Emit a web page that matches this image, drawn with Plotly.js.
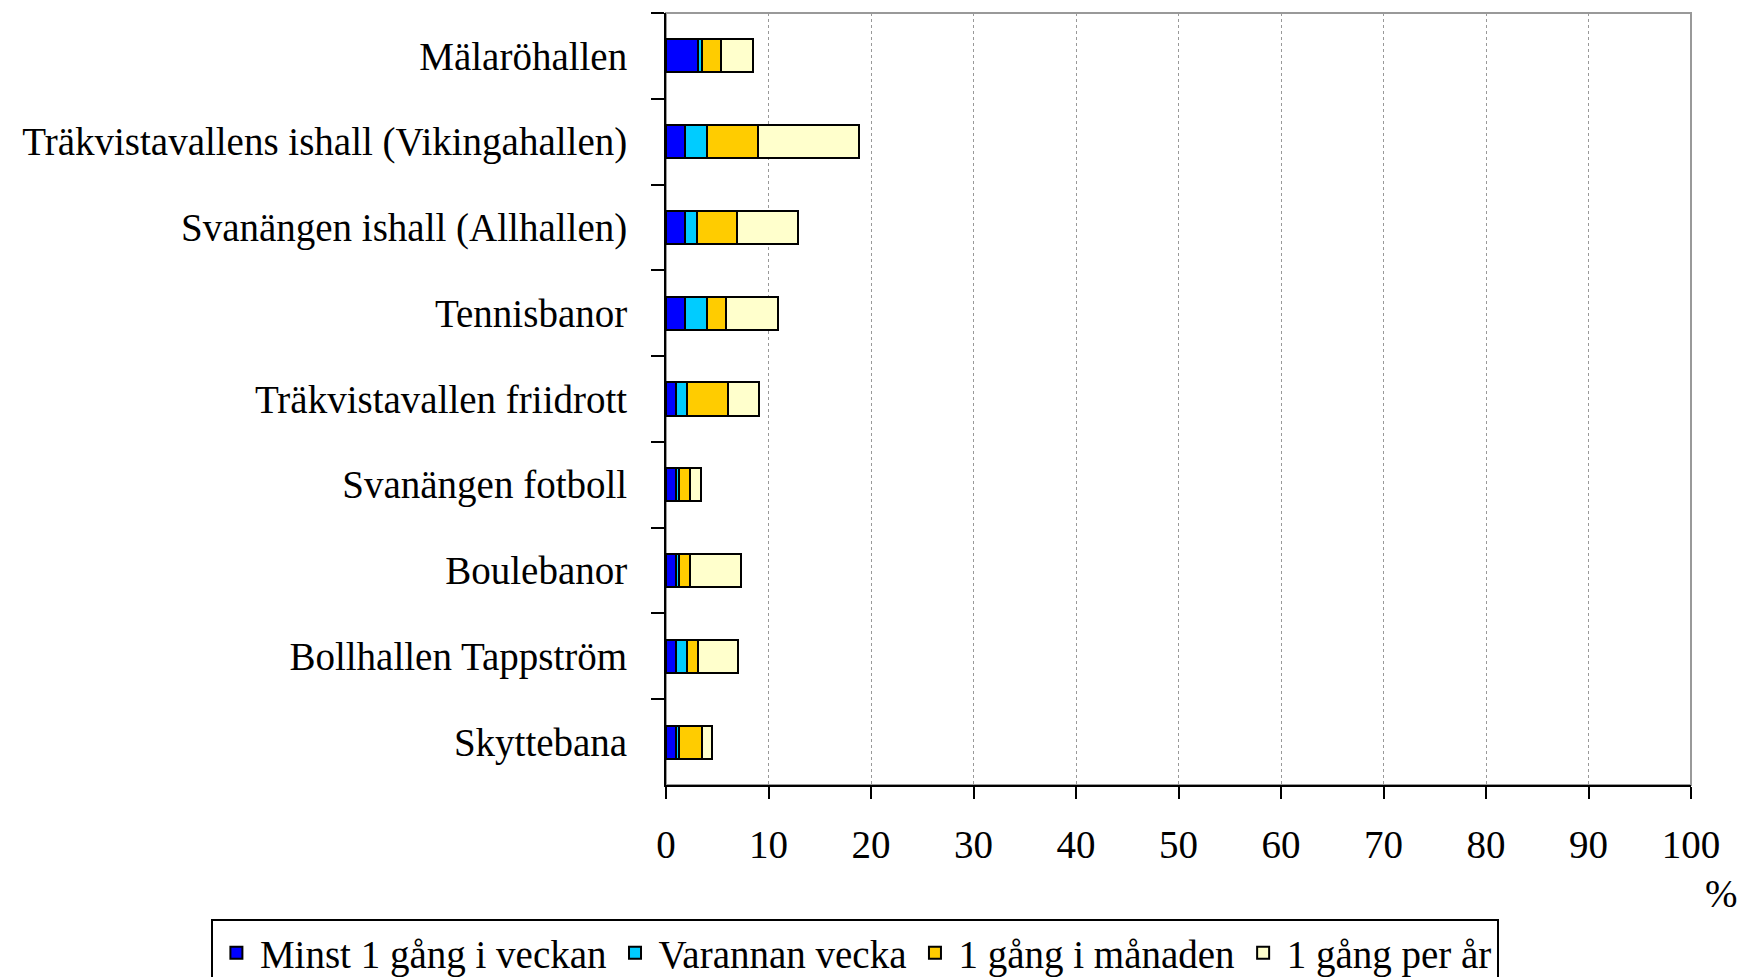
<!DOCTYPE html>
<html>
<head>
<meta charset="utf-8">
<script src="https://cdn.plot.ly/plotly-3.0.1.min.js"></script>
<style>
  body { margin: 0; background: #fff; }
  #plot { width: 1741px; height: 977px; }
</style>
</head>
<body>
<div id="plot"></div>
<script>
// facilities, top to bottom
let facilities = [
    "Mälaröhallen",
    "Träkvistavallens ishall (Vikingahallen)",
    "Svanängen ishall (Allhallen)",
    "Tennisbanor",
    "Träkvistavallen friidrott",
    "Svanängen fotboll",
    "Boulebanor",
    "Bollhallen Tappström",
    "Skyttebana"
];

// share of respondents (%) per visit frequency
let weekly   = [3.1, 1.9, 1.9, 1.9, 1.0, 1.0, 1.0, 1.0, 1.0];
let biweekly = [0.4, 2.1, 1.1, 2.1, 1.0, 0.3, 0.3, 1.0, 0.3];
let monthly  = [1.9, 5.0, 3.9, 1.9, 4.0, 1.0, 1.0, 1.1, 2.2];
let yearly   = [3.1, 9.8, 6.0, 5.0, 3.1, 1.1, 5.0, 3.9, 1.0];

let seriesNames = ["Minst 1 gång i veckan", "Varannan vecka", "1 gång i månaden", "1 gång per år"];
let seriesValues = [weekly, biweekly, monthly, yearly];
let colors = ["#0000FF", "#00CCFF", "#FFCC00", "#FFFFCC"];

let font = "Liberation Serif, Times New Roman, serif";

let data = seriesValues.map((vals, i) => ({
    y: facilities,
    x: vals,
    name: seriesNames[i],
    type: "bar",
    orientation: "h",
    marker: { color: colors[i], line: { color: "#000", width: 2 } },
    hoverinfo: "skip"
}));

let layout = {
    width: 1741,
    height: 977,
    barmode: "stack",
    bargap: 0.615,
    showlegend: true,
    paper_bgcolor: "#fff",
    plot_bgcolor: "#fff",
    font: { family: font, size: 39, color: "#000" },
    margin: { l: 666, r: 50, t: 13, b: 192, pad: 0, autoexpand: false },
    xaxis: {
        range: [0, 100],
        dtick: 10,
        showgrid: true,
        gridcolor: "#999",
        griddash: "dot",
        gridwidth: 1,
        showline: true,
        linecolor: "#000",
        linewidth: 2,
        ticks: "outside",
        ticklen: 12,
        tickwidth: 2,
        tickcolor: "#000",
        ticklabelstandoff: 12,
        zeroline: false,
        fixedrange: true
    },
    yaxis: {
        type: "category",
        autorange: "reversed",
        tickson: "boundaries",
        ticks: "outside",
        ticklen: 13,
        tickwidth: 2,
        tickcolor: "#000",
        showline: true,
        linecolor: "#000",
        linewidth: 2,
        showgrid: false,
        ticklabelstandoff: 29,
        fixedrange: true
    },
    legend: {
        orientation: "h",
        x: -0.444,
        xanchor: "left",
        y: -0.1736,
        yanchor: "top",
        bgcolor: "#fff",
        bordercolor: "#000",
        borderwidth: 2,
        itemwidth: 37,
        font: { family: font, size: 39, color: "#000" },
        traceorder: "normal"
    },
    shapes: [{
        type: "rect", xref: "paper", yref: "paper",
        x0: 0, x1: 1, y0: 0, y1: 1,
        line: { color: "#999", width: 2 },
        layer: "below"
    }],
    annotations: [{
        text: "%",
        xref: "paper", yref: "paper",
        x: 1.0, y: -0.141,
        xanchor: "left", yanchor: "middle",
        xshift: 12,
        showarrow: false,
        font: { family: font, size: 39, color: "#000" }
    }]
};

Plotly.newPlot("plot", data, layout, { staticPlot: true, displayModeBar: false });
</script>
</body>
</html>
